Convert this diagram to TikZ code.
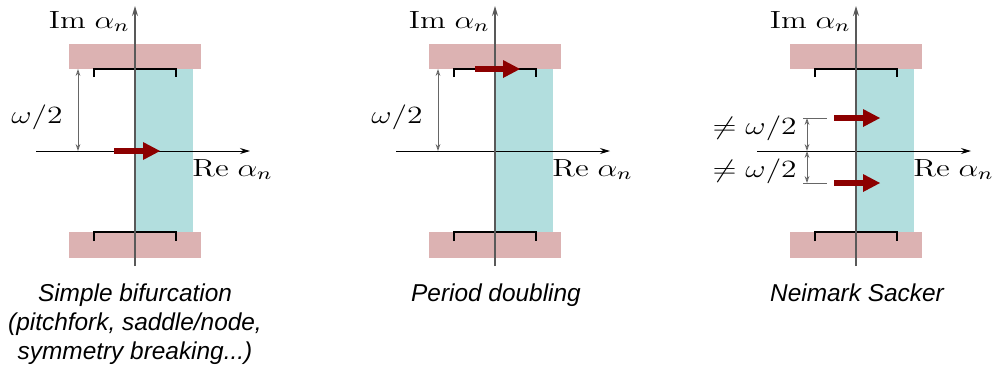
\RequirePackage{fix-cm}
\documentclass[tikz,border=0pt]{standalone}
\usepackage[no-math]{fontspec}
\newfontfamily\capfont{Liberation Sans}
\usetikzlibrary{arrows.meta}
\definecolor{pinkbar}{RGB}{220,178,178}
\definecolor{cyanbar}{RGB}{178,222,222}
\definecolor{evred}{RGB}{140,0,0}
\newcommand{\mlab}[1]{\scalebox{1.27}[1]{$#1$}}
\newcommand{\clab}[1]{\begin{tabular}[t]{@{}c@{}}#1\end{tabular}}
\begin{document}
\begin{tikzpicture}[x=0.5pt,y=-0.5pt,
  mathlbl/.style={inner sep=0pt, font=\fontsize{12.4}{14}\selectfont},
  caplbl/.style={inner sep=0pt, anchor=base, font=\capfont\itshape\fontsize{12.2}{14.5}\selectfont},
  haxis/.style={draw=black, line width=0.5pt, -{Stealth[length=5pt,width=3pt]}},
  vaxis/.style={draw=black!65, line width=0.6pt, -{Stealth[length=5pt,width=3pt]}},
  dimline/.style={draw=black!60, line width=0.4pt, {Stealth[length=3.5pt,width=2.4pt,open]}-{Stealth[length=3.5pt,width=2.4pt,open]}},
  extline/.style={draw=black!60, line width=0.5pt},
  bracketline/.style={draw=black, line width=1pt},
  evarrow/.style={draw=evred, line width=3pt, -{Triangle[length=8.5pt,width=9pt,line width=0pt]}}]
\useasboundingbox (0,0) rectangle (994,372);

\foreach \dx/\p in {0/a,360/b,721/c}{
  \begin{scope}[shift={(\dx,0)}]
    \fill[pinkbar] (69,44) rectangle (201,69);
    \fill[pinkbar] (69,232) rectangle (201,258);
    \fill[cyanbar] (135,69) rectangle (193,232);
    \draw[bracketline] (94,77) -- (94,69) -- (176,69) -- (176,77);
    \draw[bracketline] (94,241) -- (94,232) -- (176,232) -- (176,241);
    \coordinate (hl\p) at (36,151);
    \coordinate (hr\p) at (250,151);
    \coordinate (vb\p) at (135,266);
    \coordinate (vt\p) at (135,6);
    \draw[haxis] (hl\p) -- (hr\p);
    \draw[vaxis] (vb\p) -- (vt\p);
    \node[mathlbl, anchor=base east] (im\p) at (130,28) {\mlab{\mathrm{Im}\;\alpha_n}};
    \node[mathlbl, anchor=base west] (re\p) at (192,176) {\mlab{\mathrm{Re}\;\alpha_n}};
  \end{scope}
}

% panel 1
\coordinate (d1t) at (78,69);
\coordinate (d1b) at (78,151);
\draw[dimline] (d1t) -- (d1b);
\node[mathlbl, anchor=base east] (w1) at (63,123) {\mlab{\omega/2}};
\coordinate (e1s) at (114,151);
\coordinate (e1e) at (160,151);
\draw[evarrow] (e1s) -- (e1e);
\node[caplbl] (cap1) at (135,301) {\clab{Simple bifurcation\\(pitchfork, saddle/node,\\symmetry breaking...)}};

% panel 2
\coordinate (d2t) at (438,69);
\coordinate (d2b) at (438,151);
\draw[dimline] (d2t) -- (d2b);
\node[mathlbl, anchor=base east] (w2) at (423,123) {\mlab{\omega/2}};
\coordinate (e2s) at (475,69);
\coordinate (e2e) at (520,69);
\draw[evarrow] (e2s) -- (e2e);
\node[caplbl] (cap2) at (496,301) {\clab{Period doubling}};

% panel 3
\coordinate (x3a) at (803,118);
\coordinate (x3b) at (827,118);
\coordinate (x3c) at (803,183);
\coordinate (x3d) at (827,183);
\draw[extline] (x3a) -- (x3b);
\draw[extline] (x3c) -- (x3d);
\coordinate (d3t) at (807,118);
\coordinate (d3m) at (807,151);
\coordinate (d3b) at (807,183);
\draw[dimline] (d3t) -- (d3m);
\draw[dimline] (d3m) -- (d3b);
\node[mathlbl, anchor=base east] (w3a) at (797,134) {\mlab{\neq\omega/2}};
\node[mathlbl, anchor=base east] (w3b) at (797,177) {\mlab{\neq\omega/2}};
\coordinate (e3s) at (834,118);
\coordinate (e3e) at (880,118);
\coordinate (e3t) at (834,183);
\coordinate (e3u) at (880,183);
\draw[evarrow] (e3s) -- (e3e);
\draw[evarrow] (e3t) -- (e3u);
\node[caplbl] (cap3) at (857,301) {\clab{Neimark Sacker}};
\end{tikzpicture}
\end{document}
